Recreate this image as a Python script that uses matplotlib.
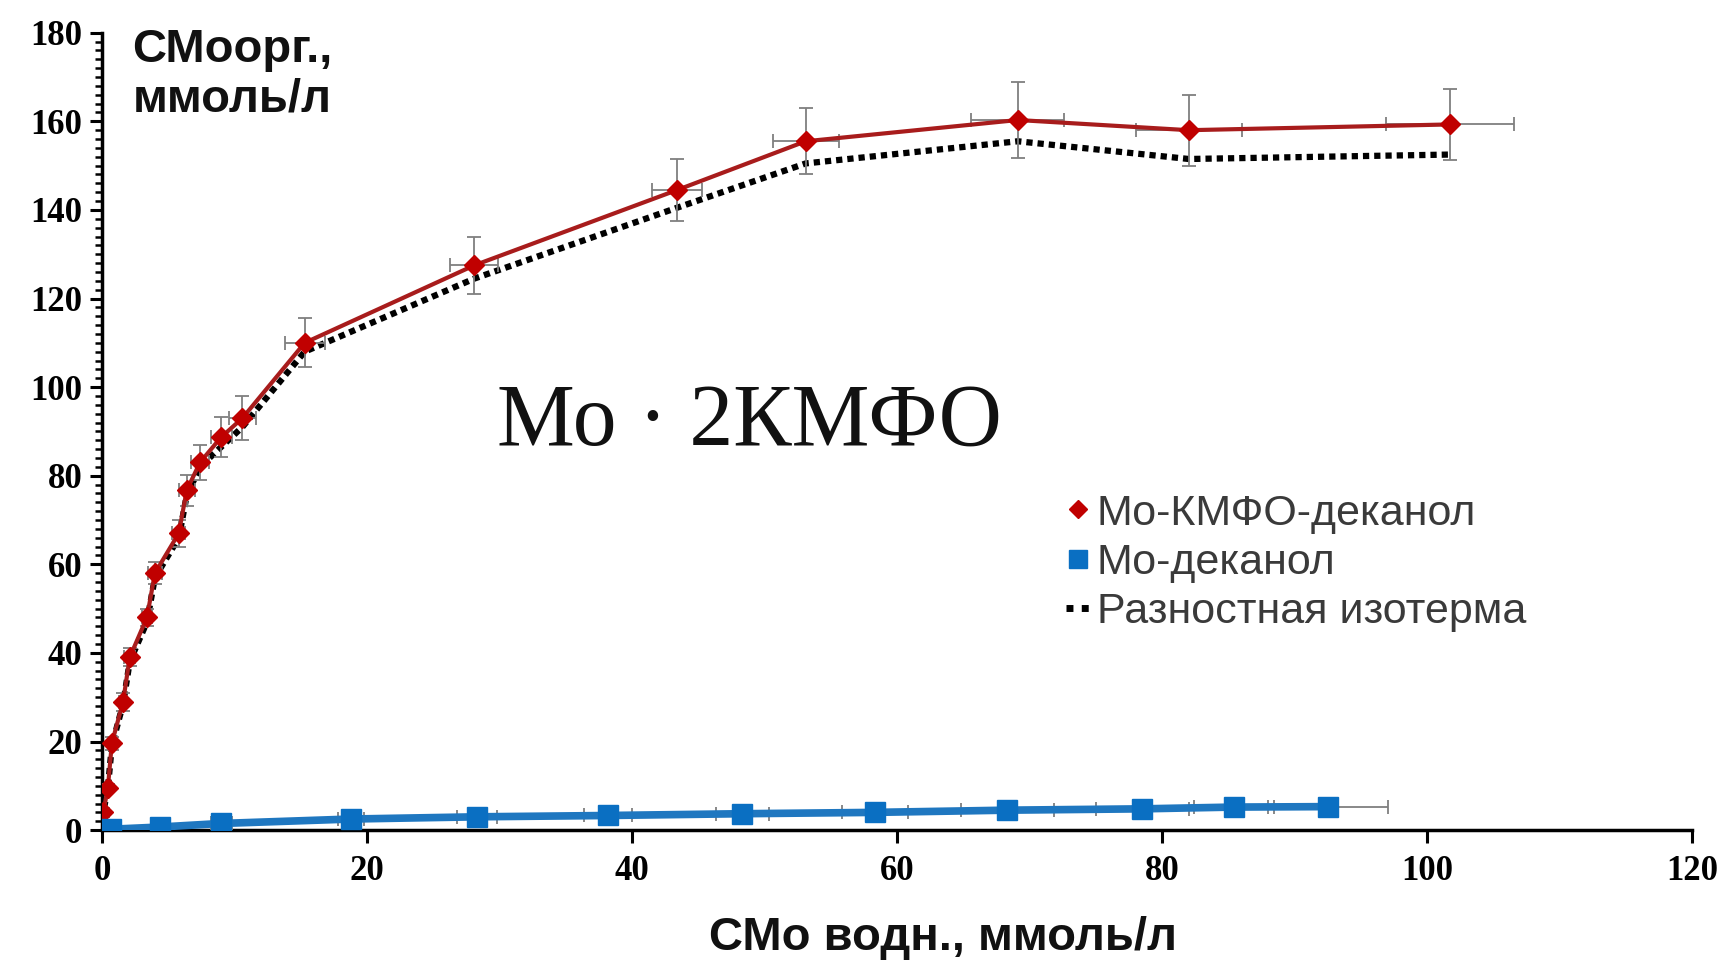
import matplotlib
matplotlib.use('Agg')
import matplotlib.pyplot as plt
from matplotlib.lines import Line2D
from matplotlib.ticker import MultipleLocator

# Мо-КМФО-деканол
x_red = [0, 0.1, 0.45, 0.75, 1.6, 2.1, 3.4, 4.0, 5.8, 6.4, 7.4, 9.0, 10.6, 15.3, 28.1, 43.4, 53.1, 69.1, 82.0, 101.7]
y_red = [0, 4, 9.5, 19.6, 29, 39, 48, 58, 67, 76.7, 83, 88.7, 93, 110, 127.5, 144.5, 155.5, 160.3, 158, 159.3]
yerr_red = [0.5, 1, 1, 1.5, 2, 2, 2, 2.5, 3, 3.5, 4, 4.5, 5, 5.5, 6.5, 7, 7.5, 8.5, 8, 8]
xerr_red = [0.2, 0.2, 0.2, 0.3, 0.3, 0.4, 0.4, 0.5, 0.5, 0.6, 0.7, 0.8, 1, 1.5, 1.8, 1.9, 2.5, 3.5, 4, 4.8]

# Разностная изотерма
y_diff = [0, 4, 9.5, 19, 28.5, 38, 47, 57, 66, 75.5, 82, 86.5, 91, 108, 124.5, 140.5, 150.5, 155.5, 151.5, 152.5]

# Мо-деканол
x_blue = [0.7, 4.4, 9.0, 18.8, 28.3, 38.2, 48.3, 58.3, 68.3, 78.5, 85.4, 92.5]
y_blue = [0.2, 0.7, 1.5, 2.5, 3.0, 3.3, 3.7, 4.0, 4.5, 4.8, 5.2, 5.3]
xerr_blue = [0.3, 0.5, 0.8, 1, 1.5, 1.8, 2, 2.5, 3.5, 3.5, 3, 4.5]

labels = ['Мо-КМФО-деканол', 'Мо-деканол', 'Разностная изотерма']

fig = plt.figure(figsize=(17.27, 9.63), dpi=100)
ax = fig.add_axes([0.059, 0.138, 0.921, 0.828])

# Линии
ax.plot(x_red, y_diff, color='black', lw=4.5, linestyle=(0, (1, 0.8)), zorder=2)
ax.errorbar(x_red, y_red, yerr=yerr_red, xerr=xerr_red, color='#a81c1c', lw=3,
            marker='D', markersize=10, markerfacecolor='#c00000', markeredgecolor='#c00000',
            ecolor='#7f7f7f', elinewidth=1.3, capsize=5, capthick=1.3, zorder=3)
ax.errorbar(x_blue, y_blue, xerr=xerr_blue, color='#1f77c0', lw=5.5,
            marker='s', markersize=15, markerfacecolor='#0a6fc2', markeredgecolor='#0a6fc2',
            ecolor='#7f7f7f', elinewidth=1.3, capsize=5, capthick=1.3, zorder=4)

ax.set_xlim(0, 120)
ax.set_ylim(0, 180)
ax.spines['top'].set_visible(False)
ax.spines['right'].set_visible(False)
for spine in ['bottom', 'left']:
    ax.spines[spine].set_linewidth(2.5)

ax.xaxis.set_major_locator(MultipleLocator(20))
ax.yaxis.set_major_locator(MultipleLocator(20))
ax.yaxis.set_minor_locator(MultipleLocator(2))
ax.tick_params(axis='both', which='major', length=9, width=2.2, labelsize=25)
ax.tick_params(axis='y', which='minor', length=5, width=1.8)
ax.tick_params(axis='x', pad=9)
ax.tick_params(axis='y', pad=5)
for lab in ax.get_xticklabels() + ax.get_yticklabels():
    lab.set_fontfamily('Liberation Serif')
    lab.set_fontweight('bold')

# Подписи осей
ax.text(2.3, 181, 'СМоорг.,\nммоль/л', fontsize=34, fontweight='bold',
        family='Liberation Sans', va='top', ha='left', linespacing=1.15, color='#111111')
fig.text(0.546, 0.026, 'СМо водн., ммоль/л', fontsize=34, fontweight='bold',
         family='Liberation Sans', ha='center', va='center', color='#111111')

ax.text(29.8, 92.0, 'Мо · 2КМФО', fontsize=63, family='Liberation Serif',
        ha='left', va='center', color='#111111')

handles = [
    Line2D([], [], linestyle='none', marker='D', markersize=9, color='#c00000'),
    Line2D([], [], linestyle='none', marker='s', markersize=13, color='#0a6fc2'),
    Line2D([], [], color='black', lw=5, linestyle=(0, (1, 1.2))),
]
leg = fig.legend(handles, labels, loc='upper left', bbox_to_anchor=(1044 / 1727, 1 - 472 / 963),
                 frameon=False, handlelength=0.6, handletextpad=0.12,
                 borderpad=0, labelspacing=0.22, prop={'family': 'Liberation Sans', 'size': 31})
for t in leg.get_texts():
    t.set_color('#3a3a3a')

fig.savefig('out.png', dpi=100)
